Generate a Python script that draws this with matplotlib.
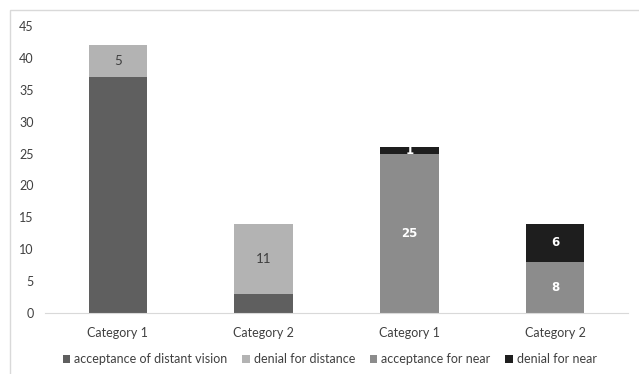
import matplotlib
matplotlib.use('Agg')
import numpy as np
import matplotlib.pyplot as plt
from matplotlib.patches import Rectangle

categories = ['Category 1', 'Category 2', 'Category 1', 'Category 2']
series_names = ['acceptance of distant vision', 'denial for distance',
                'acceptance for near', 'denial for near']
accept_distant = [37, 3, 0, 0]
deny_distant = [5, 11, 0, 0]
accept_near = [0, 0, 25, 8]
deny_near = [0, 0, 1, 6]

colors = ['#5f5f5f', '#b3b3b3', '#8c8c8c', '#1e1e1e']
# per-series data label style (first series carries no labels)
label_colors = [None, '#3f3f3f', 'white', 'white']
label_families = [None, ['Lato'], ['DejaVu Sans'], ['DejaVu Sans']]
label_weights = [None, 'normal', 'bold', 'bold']
label_sizes = [None, 9.5, 8.5, 8.5]

plt.rcParams['font.family'] = ['Lato', 'DejaVu Sans']

fig = plt.figure(figsize=(6.39, 3.74), dpi=100)
ax = fig.add_axes([45 / 639, 1 - 313 / 374, 583 / 639, 287 / 374])

# chart frame (runs off the right and bottom edges)
fig.patches.append(Rectangle((10 / 639, -0.1), 1.2, 1.1 - 10 / 374,
                             transform=fig.transFigure, fill=False,
                             edgecolor='#d9d9d9', linewidth=1.0))

x = np.arange(len(categories))
bottom = np.zeros(len(categories))
all_series = [accept_distant, deny_distant, accept_near, deny_near]
for i, vals in enumerate(all_series):
    vals = np.array(vals, dtype=float)
    ax.bar(x, vals, 0.4, bottom=bottom, color=colors[i], label=series_names[i])
    if label_colors[i] is not None:
        for xi, v, b in zip(x, vals, bottom):
            if v > 0:
                ax.text(xi, b + v / 2, str(int(v)), ha='center', va='center',
                        color=label_colors[i], fontsize=label_sizes[i],
                        fontweight=label_weights[i], family=label_families[i])
    bottom += vals

ax.set_xlim(-0.5, len(categories) - 0.5)
ax.set_ylim(0, 45)
ax.set_yticks(range(0, 46, 5))
ax.set_xticks(x)
ax.set_xticklabels(categories)
ax.tick_params(axis='both', length=0, labelsize=9, colors='#404040')
ax.tick_params(axis='x', pad=10)
ax.tick_params(axis='y', pad=8)
for s in ['top', 'right', 'left']:
    ax.spines[s].set_visible(False)
ax.spines['bottom'].set_color('#d9d9d9')

fig.legend(loc='center', bbox_to_anchor=(0.516, 1 - 359 / 374), ncol=4,
           frameon=False, fontsize=9, handlelength=0.6, handleheight=0.6,
           handletextpad=0.3, columnspacing=1.2, labelcolor='#404040')

plt.savefig('out.png', dpi=100)
plt.close()
